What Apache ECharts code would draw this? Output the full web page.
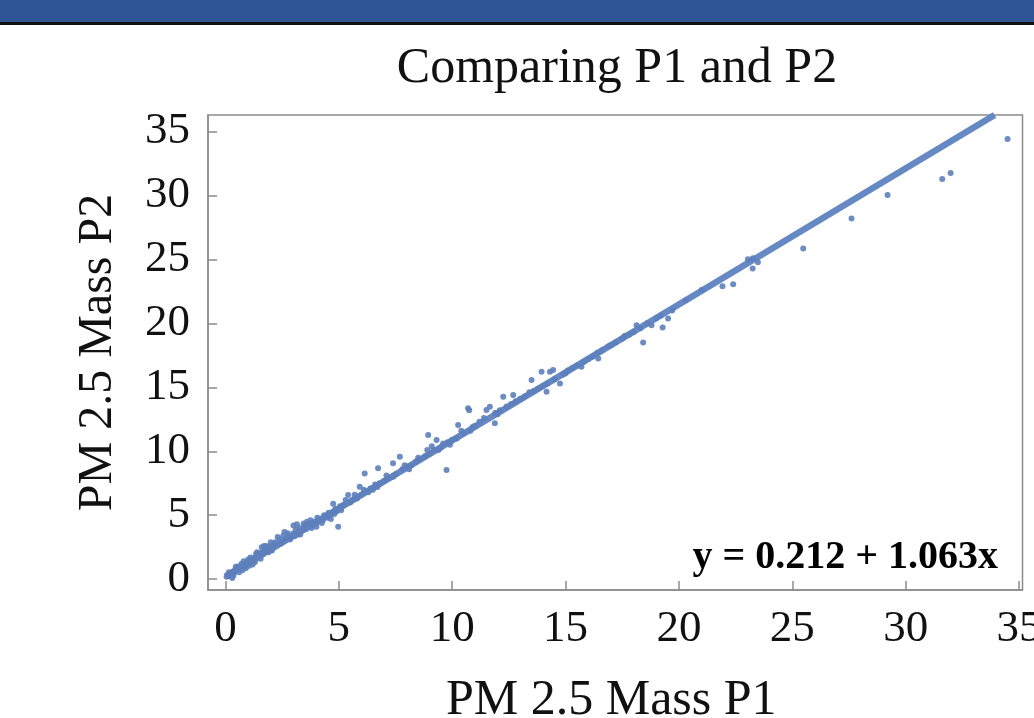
<!DOCTYPE html>
<html>
<head>
<meta charset="utf-8">
<script src="https://cdn.jsdelivr.net/npm/echarts@6/dist/echarts.min.js"></script>
<style>
  html, body { margin: 0; padding: 0; background: #fff; }
  #chart { width: 1034px; height: 718px; }
</style>
</head>
<body>
<div id="chart"></div>
<script>
// 数据：P1 与 P2 的 PM2.5 质量
var pointsP1P2 = [
  [0.05,0.2],[0.1,0.3],[0.15,0.25],[0.2,0.45],[0.25,0.4],[0.3,0.5],[0.3,0.1],[0.35,0.6],[0.4,0.55],
  [0.45,0.75],[0.5,0.7],[0.5,1.0],[0.55,0.85],[0.6,0.8],[0.6,0.55],[0.65,0.95],[0.7,0.9],[0.75,1.05],
  [0.8,1.1],[0.8,1.4],[0.85,1.0],[0.9,1.2],[0.9,0.85],[0.95,1.3],[1.0,1.25],[1.05,1.4],[1.1,1.35],
  [1.1,1.7],[1.15,1.5],[1.2,1.6],[1.2,1.15],[1.25,1.45],[1.3,1.7],[1.35,1.65],[1.4,1.8],[1.4,2.1],
  [1.45,1.9],[1.5,1.85],[1.55,2.0],[1.6,2.1],[1.6,2.5],[1.65,1.95],[1.7,2.2],[1.7,2.6],[1.75,2.3],
  [1.8,2.15],[1.85,2.4],[1.9,2.5],[1.95,2.35],[2.0,2.6],[2.0,2.9],
  [0.15,0.55],[0.35,0.3],[0.45,0.95],[0.7,1.2],[0.75,0.7],[1.0,1.55],[1.05,1.05],[1.3,1.35],
  [1.35,2.0],[1.55,1.6],[1.8,2.6],[1.9,2.1],[2.05,2.25],
  [2.1,2.5],[2.2,2.9],[2.3,2.7],[2.3,3.3],[2.4,3.1],[2.5,2.9],[2.6,3.7],[2.6,3.0],[2.7,3.2],
  [2.8,3.4],[2.9,3.3],[3.0,3.6],[3.0,4.2],[3.1,3.9],[3.2,3.5],[3.3,4.0],[3.3,3.5],[3.4,3.8],
  [3.5,4.2],[3.6,4.1],[3.6,4.5],[3.7,4.3],[3.8,4.0],[3.9,4.5],[4.0,4.4],[4.01,4.11],[4.1,4.6],
  [4.2,4.7],[4.3,4.6],[4.4,4.9],[4.5,4.8],[4.6,5.0],[4.7,5.2],[4.75,5.9],[4.8,5.1],[4.9,5.3],
  [4.97,4.1],[5.0,5.5],[5.1,5.4],
  [2.15,2.75],[2.45,2.8],[2.55,3.4],[2.75,3.6],[2.85,3.1],[3.05,3.35],[3.15,4.3],[3.25,3.8],
  [3.45,4.35],[3.55,3.9],[3.75,4.6],[3.85,4.25],[4.05,4.8],[4.25,4.4],[4.35,5.0],[4.55,5.2],
  [4.65,4.7],[4.85,5.5],[5.05,5.7],
  [5.2,5.8],[5.41,6.58],[5.5,6.0],[5.6,6.2],[5.8,6.3],[5.92,7.23],[6.0,6.6],[6.14,8.27],[6.2,6.9],
  [6.4,7.1],[6.5,7.0],[6.6,7.4],[6.73,8.67],[6.8,7.5],[7.0,7.7],[7.2,7.9],[7.39,9.06],[7.5,8.2],
  [7.69,9.57],[7.8,8.6],[8.0,8.8],[8.2,8.9],[8.4,9.2],[8.6,9.4],[8.8,9.6],[8.94,11.26],[9.0,9.8],
  [9.2,10.1],[9.31,10.87],[9.5,10.3],[9.6,10.6],[9.75,8.53],[9.8,10.7],[10.0,10.9],[10.26,12.05],
  [10.5,11.4],[10.7,13.35],[10.75,13.2],[10.9,11.9],
  [5.3,6.2],[5.7,6.6],[6.1,7.0],[6.3,6.8],[6.7,7.2],[7.1,8.1],[7.4,8.0],[7.9,8.9],[8.1,8.6],
  [8.5,9.5],[8.9,10.1],[9.1,10.4],[9.4,10.1],[9.9,10.5],[10.2,11.0],[10.4,11.6],[10.8,11.6],
  [11.0,12.0],[11.2,12.3],[11.51,13.22],[11.66,13.47],[11.88,12.18],[11.9,13.0],[12.1,13.2],
  [12.25,14.25],[12.4,13.5],[12.69,14.39],[12.8,13.9],[13.0,14.1],[13.2,14.3],[13.5,15.56],
  [13.6,14.7],[13.8,14.9],[13.94,16.21],[14.0,15.1],[14.16,14.65],[14.31,16.21],[14.45,16.34],
  [14.5,15.6],[14.75,15.3],[14.9,16.0],[15.1,16.3],[15.3,16.5],[15.5,16.7],[15.8,17.0],[16.0,17.2],
  [16.2,17.4],[16.44,17.25],[16.6,17.9],[16.9,18.2],[17.2,18.5],[17.5,18.8],[17.8,19.1],[18.0,19.3],
  [18.13,19.85],[18.42,18.5],[18.6,20.0],[18.79,19.85],[19.0,20.4],[19.28,19.67],[19.52,20.37],
  [19.7,21.0],[20.3,21.8],[21.0,22.6],
  [11.4,12.6],[12.0,12.9],[12.6,13.7],[13.4,14.6],[14.2,15.3],[15.0,16.1],[15.7,16.6],[16.4,17.7],
  [17.0,18.3],[17.6,19.0],[18.3,19.6],[19.2,20.6],
  [21.92,22.9],[22.39,23.05],[23.04,25.0],[23.25,24.28],[23.26,25.08],[23.48,24.77],
  [25.48,25.84],[27.61,28.18],[29.2,30.02],[31.61,31.27],[31.98,31.74],[34.49,34.39]
];
// 回归直线 y = 0.212 + 1.063x 的两端
var fitLine = [[0, 0.212], [33.92, 36.27]];
var xTicks = [0, 5, 10, 15, 20, 25, 30, 35];
var yTicks = [0, 5, 10, 15, 20, 25, 30, 35];

var myChart = echarts.init(document.getElementById('chart'));
var serif = '"Liberation Serif", "Times New Roman", serif';
var frameColor = '#8c8c8c';
var dotColor = '#5d7fbb';

var option = {
  backgroundColor: '#fff',
  animation: false,
  // 顶部蓝色条
  graphic: [
    { type: 'rect', shape: { x: 0, y: 0, width: 1034, height: 22 }, style: { fill: '#2f5597' } },
    { type: 'rect', shape: { x: 0, y: 22, width: 1034, height: 3 }, style: { fill: '#111' } }
  ],
  title: [{
    text: 'Comparing P1 and P2',
    left: 612,
    top: 39,
    textAlign: 'center',
    textStyle: { fontFamily: serif, fontSize: 50, fontWeight: 'normal', color: '#111' }
  }, {
    text: 'y = 0.212 + 1.063x',
    right: 31,
    top: 533,
    textStyle: { fontFamily: serif, fontSize: 40, fontWeight: 'bold', color: '#000' }
  }],
  grid: {
    left: 208, right: 11.5, top: 115, bottom: 128,
    show: true, borderColor: frameColor, borderWidth: 1.5, backgroundColor: 'transparent',
    outerBoundsMode: 'none', containLabel: false
  },
  xAxis: {
    type: 'value',
    min: -0.77,
    max: 35.15,
    name: 'PM 2.5 Mass P1',
    nameLocation: 'middle',
    nameGap: 86,
    nameMoveOverlap: false,
    nameTextStyle: { fontFamily: serif, fontSize: 50, color: '#111', padding: [0, 8, 0, 0] },
    axisLine: { show: true, onZero: false, lineStyle: { color: frameColor, width: 1.5 } },
    axisTick: { show: true, inside: true, length: 9, customValues: xTicks, lineStyle: { color: frameColor, width: 1.5 } },
    axisLabel: { fontFamily: serif, fontSize: 45, color: '#111', margin: 17, customValues: xTicks },
    splitLine: { show: false }
  },
  yAxis: {
    type: 'value',
    min: -0.84,
    max: 36.27,
    name: 'PM 2.5 Mass P2',
    nameLocation: 'middle',
    nameGap: 86,
    nameMoveOverlap: false,
    nameTextStyle: { fontFamily: serif, fontSize: 48, color: '#111' },
    axisLine: { show: true, onZero: false, lineStyle: { color: frameColor, width: 1.5 } },
    axisTick: { show: true, inside: true, length: 9, customValues: yTicks, lineStyle: { color: frameColor, width: 1.5 } },
    axisLabel: { fontFamily: serif, fontSize: 45, color: '#111', margin: 18, customValues: yTicks },
    splitLine: { show: false }
  },
  series: [{
    name: 'fit',
    type: 'line',
    data: fitLine,
    symbol: 'none',
    lineStyle: { color: '#6689c4', width: 6.5 },
    z: 2
  }, {
    name: 'P1 vs P2',
    type: 'scatter',
    data: pointsP1P2,
    symbolSize: 6,
    clip: false,
    itemStyle: { color: dotColor, opacity: 0.9 },
    z: 3
  }]
};
myChart.setOption(option);
</script>
</body>
</html>
